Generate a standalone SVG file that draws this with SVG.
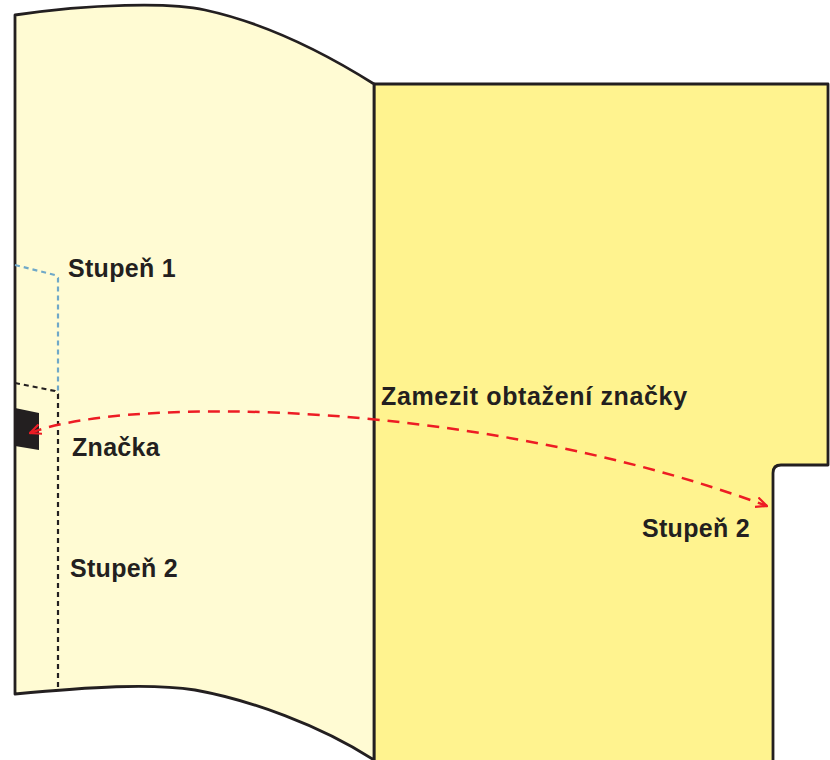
<svg xmlns="http://www.w3.org/2000/svg" width="830" height="760" viewBox="0 0 830 760">
<defs>
<style>
.edge{stroke:#231f20;stroke-width:2.8;stroke-linejoin:round}
.lbl{font-family:"Liberation Sans",Arial,sans-serif;font-size:25px;font-weight:bold;letter-spacing:0.3px;fill:#231f20}
</style>
<marker id="arr" viewBox="0 0 12 12" refX="11" refY="6" markerWidth="12" markerHeight="12" markerUnits="userSpaceOnUse" orient="auto-start-reverse">
<path d="M0,1 L11,6 L0,11" fill="none" stroke="#ed1c24" stroke-width="2.2"/>
</marker>
</defs>
<rect width="830" height="760" fill="#ffffff"/>
<g id="right-page">
<path class="edge" d="M374,84 L828,84 L828,465 L781,465 Q773,465 773,473 L773,762 L374,762 Z" fill="#fff38f"/>
</g>
<g id="left-page">
<path class="edge" d="M15,15 C90,4 170,2 205,10 C260,22 320,50 374,84 L374,760 C320,725 250,700 195,690 C150,683 90,687 15,694 Z" fill="#fffbd3"/>
</g>
<g id="marker-tab">
<path d="M15,408 L39,413 L39,450 L15,446 Z" fill="#231f20"/>
</g>
<g id="connectors">
<path d="M15,265 L55,275 L58,278 L58,393" fill="none" stroke="#6fa8c8" stroke-width="2.2" stroke-dasharray="5,4"/>
<path d="M15,383 L55,391 L58,394 L58,690" fill="none" stroke="#231f20" stroke-width="2.2" stroke-dasharray="5,4"/>
<path d="M30,433 C130,395 480,400 767,506" fill="none" stroke="#ed1c24" stroke-width="2.5" stroke-dasharray="12,8" marker-start="url(#arr)" marker-end="url(#arr)"/>
</g>
<g id="labels">
<text class="lbl" x="381" y="405" style="letter-spacing:0.65px">Zamezit obtažení značky</text>
<text class="lbl" x="68" y="277">Stupeň 1</text>
<text class="lbl" x="72" y="456">Značka</text>
<text class="lbl" x="70" y="577">Stupeň 2</text>
<text class="lbl" x="642" y="537">Stupeň 2</text>
</g>
</svg>
